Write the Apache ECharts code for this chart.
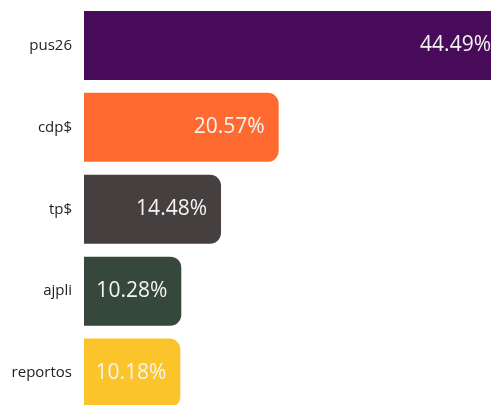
<!DOCTYPE html>
<html>
<head>
<meta charset="utf-8">
<script src="https://cdn.jsdelivr.net/npm/echarts@6/dist/echarts.min.js"></script>
<style>
  html, body { margin: 0; padding: 0; background: #fff; overflow: hidden; }
  #main { width: 505px; height: 414px; }
</style>
</head>
<body>
<div id="main"></div>
<script>
  const categories = ["pus26", "cdp$", "tp$", "ajpli", "reportos"];
  const values = [44.49, 20.57, 14.48, 10.28, 10.18];
  const colors = ["#470b59", "#fe6a30", "#45403f", "#36473b", "#fbc42a"];

  const chart = echarts.init(document.getElementById("main"));
  const option = {
    animation: false,
    grid: {
      left: 84,
      right: 0,
      top: 4.5,
      bottom: 0,
    },
    xAxis: {
      type: "value",
      min: 0,
      max: "dataMax",
      show: false,
    },
    yAxis: {
      type: "category",
      inverse: true,
      data: categories,
      axisLine: { show: false },
      axisTick: { show: false },
      axisLabel: {
        margin: 12,
        fontFamily: "Open Sans",
        fontSize: 15,
        color: "#222",
      },
    },
    series: [
      {
        type: "bar",
        barWidth: 69,
        data: values.map((v, i) => ({
          value: v,
          itemStyle: { color: colors[i] },
        })),
        itemStyle: {
          borderRadius: [0, 11, 11, 0],
        },
        label: {
          show: true,
          position: "insideRight",
          distance: 14,
          fontFamily: "Open Sans",
          fontSize: 21,
          color: "#f4f4f4",
          formatter: (p) => p.value.toFixed(2) + "%",
        },
      },
    ],
  };
  chart.setOption(option);
</script>
</body>
</html>
